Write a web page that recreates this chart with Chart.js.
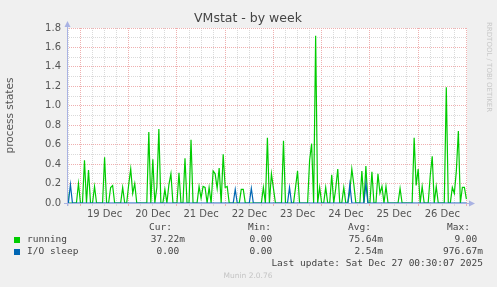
<!DOCTYPE html>
<html>
<head>
<meta charset="utf-8">
<title>VMstat - by week</title>
<script src="https://cdn.jsdelivr.net/npm/chart.js@4.4.1/dist/chart.umd.min.js"></script>
<style>
  html, body { margin: 0; padding: 0; background: #f0f0f0; }
  #wrap { width: 497px; height: 287px; }
</style>
</head>
<body>
<div id="wrap"><canvas id="vmstat" width="497" height="287"></canvas></div>
<script>
// hourly samples, first one is Dec 18 17:00 (hours counted from Dec 19 00:00)
var firstHour = -7;
var running = [
    0.26, 0, 0, 0, 0, 0, 0.2,
    0, 0, 0.44, 0, 0.34, 0, 0, 0.17, 0, 0, 0, 0, 0.47, 0, 0, 0.16, 0.18, 0, 0, 0, 0, 0.16, 0, 0,
    0.19, 0.35, 0.1, 0.2, 0, 0, 0, 0, 0, 0, 0.73, 0, 0.45, 0, 0.16, 0.76, 0, 0, 0.14, 0, 0.19, 0.3, 0, 0,
    0, 0.31, 0, 0, 0.46, 0, 0, 0.65, 0, 0, 0, 0.17, 0.05, 0.17, 0.16, 0, 0.16, 0, 0.33, 0.3, 0.15, 0.36, 0, 0.5,
    0.16, 0.17, 0, 0, 0, 0, 0, 0, 0.14, 0.14, 0, 0, 0, 0, 0, 0, 0, 0, 0, 0.16, 0, 0.67, 0, 0.3,
    0.15, 0, 0, 0, 0, 0.64, 0, 0, 0, 0, 0, 0.16, 0.33, 0, 0, 0, 0, 0, 0.44, 0.61, 0, 1.72, 0, 0.16,
    0, 0, 0.16, 0, 0, 0.29, 0, 0.15, 0.35, 0, 0, 0.16, 0, 0, 0.12, 0.35, 0.19, 0, 0, 0, 0.33, 0, 0.38, 0,
    0, 0.32, 0, 0, 0.3, 0.1, 0.17, 0, 0.17, 0, 0, 0, 0, 0, 0, 0.15, 0, 0, 0, 0, 0, 0, 0.67, 0.18,
    0.35, 0, 0.17, 0, 0, 0, 0.28, 0.48, 0, 0.17, 0, 0, 0, 0, 1.19, 0, 0, 0.16, 0.1, 0.33, 0.74, 0, 0.16, 0.16,
    0.04
];
var ioSleep = [
    0, 0, 0.19, 0, 0, 0, 0,
    0, 0, 0, 0, 0, 0, 0, 0, 0, 0, 0, 0, 0, 0, 0, 0, 0, 0, 0, 0, 0, 0, 0, 0,
    0, 0, 0, 0, 0, 0, 0, 0, 0, 0, 0, 0, 0, 0, 0, 0, 0, 0, 0, 0, 0, 0, 0, 0,
    0, 0, 0, 0, 0, 0, 0, 0, 0, 0, 0, 0, 0, 0, 0, 0, 0, 0, 0, 0, 0, 0, 0, 0,
    0, 0, 0, 0, 0, 0.14, 0, 0, 0, 0, 0, 0, 0, 0.15, 0, 0, 0, 0, 0, 0, 0, 0, 0, 0,
    0, 0, 0, 0, 0, 0, 0, 0, 0.16, 0, 0, 0, 0, 0, 0, 0, 0, 0, 0, 0, 0, 0, 0, 0,
    0, 0, 0, 0, 0, 0, 0, 0, 0, 0, 0, 0, 0, 0, 0.19, 0, 0, 0, 0, 0, 0, 0, 0.2, 0,
    0, 0, 0, 0, 0, 0, 0, 0, 0, 0, 0, 0, 0, 0, 0, 0, 0, 0, 0, 0, 0, 0, 0, 0,
    0, 0, 0, 0, 0, 0, 0, 0, 0, 0, 0, 0, 0, 0, 0, 0, 0, 0, 0, 0, 0, 0, 0, 0,
    0
];
var dayLabels = ['19 Dec', '20 Dec', '21 Dec', '22 Dec', '23 Dec', '24 Dec', '25 Dec', '26 Dec'];
var yTickLabels = ['0.0', '0.2', '0.4', '0.6', '0.8', '1.0', '1.2', '1.4', '1.6', '1.8'];

var seriesNames = ['running', 'I/O sleep'];
var seriesColors = ['#00cc00', '#0066b3'];
var curValues = ['37.22m', '0.00'];
var minValues = ['0.00', '0.00'];
var avgValues = ['75.64m', '2.54m'];
var maxValues = ['9.00', '976.67m'];
var lastUpdate = 'Last update: Sat Dec 27 00:30:07 2025';

var axisColor = '#a9b2e3';
var majorGrid = '#efb0b0';
var minorGrid = '#dadada';

function toPoints(values) {
    return values.map(function (v, i) { return {x: firstHour + i, y: v}; });
}

var muninDecor = {
    id: 'muninDecor',
    beforeDraw: function (chart) {
        var ctx = chart.ctx, a = chart.chartArea;
        ctx.save();
        ctx.fillStyle = '#f0f0f0';
        ctx.fillRect(0, 0, chart.width, chart.height);
        ctx.fillStyle = '#ffffff';
        ctx.fillRect(a.left, a.top, a.right - a.left, a.bottom - a.top);
        ctx.restore();
    },
    afterDatasetsDraw: function (chart) {
        var ctx = chart.ctx, a = chart.chartArea;
        var b = Math.round(a.bottom) + 0.5, l = Math.round(a.left) + 0.5;
        ctx.save();
        ctx.strokeStyle = axisColor;
        ctx.fillStyle = axisColor;
        ctx.lineWidth = 1;
        ctx.beginPath();
        ctx.moveTo(a.left - 3, b); ctx.lineTo(a.right + 3, b);
        ctx.moveTo(l, a.bottom + 3); ctx.lineTo(l, a.top - 3);
        ctx.stroke();
        ctx.beginPath();
        ctx.moveTo(a.right + 8, b); ctx.lineTo(a.right + 2, b - 3); ctx.lineTo(a.right + 2, b + 3);
        ctx.fill();
        ctx.beginPath();
        ctx.moveTo(l, a.top - 7); ctx.lineTo(l - 3, a.top - 1); ctx.lineTo(l + 3, a.top - 1);
        ctx.fill();
        ctx.restore();
    },
    afterDraw: function (chart) {
        var ctx = chart.ctx;
        ctx.save();
        ctx.textBaseline = 'middle';

        ctx.fillStyle = '#444';
        ctx.font = '12.5px "DejaVu Sans"';
        ctx.textAlign = 'center';
        ctx.fillText('VMstat - by week', 248, 19);

        // rrdtool watermark
        ctx.save();
        ctx.translate(489, 22);
        ctx.rotate(Math.PI / 2);
        ctx.textAlign = 'left';
        ctx.fillStyle = '#c8c8c8';
        ctx.font = '7px "DejaVu Sans"';
        ctx.fillText('RRDTOOL / TOBI OETIKER', 0, 0);
        ctx.restore();

        ctx.textAlign = 'left';
        ctx.font = '9.5px "DejaVu Sans Mono"';
        ctx.fillStyle = '#444';
        ctx.fillText('Cur:', 149, 227.5);
        ctx.fillText('Min:', 248, 227.5);
        ctx.fillText('Avg:', 348, 227.5);
        ctx.fillText('Max:', 447, 227.5);

        var rowY = [240, 252];
        var colRight = [185, 278, 383, 483];
        for (var i = 0; i < seriesNames.length; i++) {
            var y = rowY[i];
            ctx.fillStyle = seriesColors[i];
            ctx.fillRect(14, y - 3, 6, 6);
            ctx.fillStyle = '#444';
            ctx.textAlign = 'left';
            ctx.fillText(seriesNames[i], 27, y);
            // numbers sit right aligned, with one char slot kept for the unit
            var cols = [curValues[i], minValues[i], avgValues[i], maxValues[i]];
            for (var c = 0; c < cols.length; c++) {
                var txt = cols[c];
                var hasUnit = /[a-zA-Z]$/.test(txt);
                ctx.textAlign = 'right';
                ctx.fillText(txt, colRight[c] - (hasUnit ? 0 : 5.7), y);
            }
        }
        ctx.textAlign = 'right';
        ctx.fillText(lastUpdate, 483, 263.5);

        ctx.textAlign = 'center';
        ctx.fillStyle = '#c4c4c4';
        ctx.font = '7.5px "DejaVu Sans"';
        ctx.fillText('Munin 2.0.76', 248, 276);
        ctx.restore();
    }
};

var ctx = document.getElementById('vmstat').getContext('2d');
new Chart(ctx, {
    type: 'line',
    data: {
        datasets: [{
            label: seriesNames[0],
            data: toPoints(running),
            borderColor: seriesColors[0],
            borderWidth: 1.2,
            pointRadius: 0,
            tension: 0,
            fill: false,
            order: 2
        }, {
            label: seriesNames[1],
            data: toPoints(ioSleep),
            borderColor: seriesColors[1],
            borderWidth: 1.2,
            pointRadius: 0,
            tension: 0,
            fill: false,
            order: 1
        }]
    },
    options: {
        responsive: false,
        animation: false,
        events: [],
        layout: {
            padding: {left: 0, top: 28, right: 30, bottom: 0}
        },
        plugins: {
            legend: {display: false},
            tooltip: {enabled: false},
            title: {display: false}
        },
        scales: {
            x: {
                type: 'linear',
                min: -6.7,
                max: 192.3,
                afterFit: function (scale) { scale.height = 84; },
                afterBuildTicks: function (scale) {
                    var t = [];
                    for (var h = -6; h <= 192; h += 6) t.push({value: h});
                    scale.ticks = t;
                },
                grid: {
                    color: function (c) {
                        return c.tick && c.tick.value % 24 === 0 ? majorGrid : minorGrid;
                    },
                    tickColor: function (c) {
                        return c.tick && c.tick.value % 24 === 0 ? majorGrid : minorGrid;
                    },
                    lineWidth: 1,
                    drawTicks: true,
                    tickLength: 3
                },
                border: {display: false, dash: [1, 1]},
                ticks: {
                    autoSkip: false,
                    maxRotation: 0,
                    padding: 2,
                    color: '#555',
                    font: {family: 'DejaVu Sans', size: 10},
                    callback: function (v) {
                        var d = (v - 12) / 24;
                        return (d >= 0 && d === Math.round(d)) ? dayLabels[d] : '';
                    }
                }
            },
            y: {
                min: 0,
                max: 1.8,
                afterFit: function (scale) { scale.width = 67; },
                grid: {
                    color: function (c) {
                        return c.tick && Math.round(c.tick.value * 10) % 2 === 0 ? majorGrid : minorGrid;
                    },
                    lineWidth: 1,
                    drawTicks: false
                },
                border: {display: false, dash: [1, 1]},
                title: {
                    display: true,
                    text: 'process states',
                    color: '#555',
                    font: {family: 'DejaVu Sans', size: 10.5},
                    padding: {top: 4, bottom: 4}
                },
                ticks: {
                    stepSize: 0.1,
                    autoSkip: false,
                    padding: 6,
                    color: '#555',
                    font: {family: 'DejaVu Sans', size: 10},
                    callback: function (v) {
                        var k = Math.round(v * 10);
                        return k % 2 === 0 ? yTickLabels[k / 2] : '';
                    }
                }
            }
        }
    },
    plugins: [muninDecor]
});
</script>
</body>
</html>
